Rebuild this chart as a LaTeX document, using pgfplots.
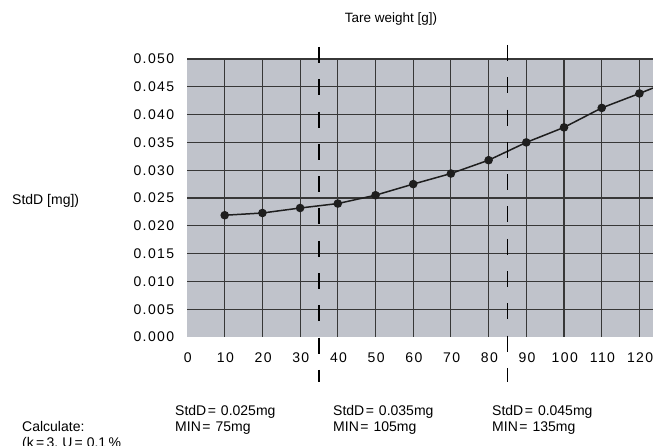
\documentclass[border=0pt]{standalone}
\usepackage{fontspec}
\setmainfont{Liberation Sans}
\newfontfamily\tickfont[LetterSpace=10]{Liberation Sans}
\usepackage{pgfplots}
\pgfplotsset{compat=1.18}
\definecolor{bgc}{RGB}{192,195,203}
\definecolor{gridc}{RGB}{55,55,55}
\definecolor{datac}{RGB}{30,30,30}
\begin{document}
\begin{tikzpicture}[x=1pt,y=1pt]
\path[use as bounding box] (0,0) rectangle (653,446);
\begin{axis}[
  at={(187pt,109pt)}, anchor=south west,
  scale only axis, width=466pt, height=278pt,
  xmin=0, xmax=123.6, ymin=0, ymax=0.05,
  scaled y ticks=false, scaled x ticks=false,
  clip mode=individual,
  axis background/.style={fill=bgc},
  axis line style={draw=none},
  major tick length=0pt,
  xtick={10,20,30,40,50,60,70,80,90,100,110,120},
  xticklabels={10,20,30,40,50,60,70,80,90,100,110,120},
  ytick={0.005,0.01,0.015,0.02,0.025,0.03,0.035,0.04,0.045,0.05},
  yticklabels={0.005,0.010,0.015,0.020,0.025,0.030,0.035,0.040,0.045,0.050},
  extra x ticks={0}, extra x tick labels={0},
  extra y ticks={0}, extra y tick labels={0.000},
  extra tick style={grid=none},
  grid=major,
  major grid style={draw=gridc, line width=1.1pt},
  /pgf/number format/assume math mode=true,
  yticklabel style={font=\fontsize{14}{16}\selectfont\tickfont, anchor=east, inner sep=0pt, xshift=-12.6pt},
  xticklabel style={font=\fontsize{14}{16}\selectfont\tickfont, anchor=center, inner sep=0pt, yshift=-21pt, xshift=0.7pt},
]
\addplot[datac, line width=1.5pt, mark=*, mark size=3.5pt, mark options={fill=datac, draw=datac}] coordinates {
  (10,0.0219) (20,0.0223) (30,0.0232) (40,0.0240) (50,0.0255) (60,0.0275)
  (70,0.0294) (80,0.0318) (90,0.0350) (100,0.0377) (110,0.0412) (120,0.0438)
  (130,0.0465)
};
\draw[black, line width=1.6pt, dash pattern=on 16pt off 16.3pt] (axis cs:35,0.05216) -- (axis cs:35,-0.00809);
\draw[black, line width=1.6pt, dash pattern=on 16pt off 16.3pt] (axis cs:85,0.05252) -- (axis cs:85,-0.00809);
\end{axis}
\node[anchor=base, inner sep=0pt, font=\fontsize{13.5}{15}\selectfont] at (391,423.2) {Tare weight [g])};
\node[anchor=base west, inner sep=0pt, font=\fontsize{14}{16}\selectfont] at (12,241) {StdD [mg])};
\node[anchor=base west, inner sep=0pt, font=\fontsize{14}{16}\selectfont] at (22,14.3) {Calculate:};
\node[anchor=base west, inner sep=0pt, font=\fontsize{14}{16}\selectfont] at (22,-2) {(k\,=\,3, U\,=\ 0.1\,\%};
\node[anchor=base west, inner sep=0pt, font=\fontsize{14}{16}\selectfont] at (175,30.3) {StdD\hspace{1.5pt}=\hspace{5pt}0.025mg};
\node[anchor=base west, inner sep=0pt, font=\fontsize{14}{16}\selectfont] at (175,14.3) {MIN\hspace{1.5pt}=\hspace{5pt}75mg};
\node[anchor=base west, inner sep=0pt, font=\fontsize{14}{16}\selectfont] at (333,30.3) {StdD\hspace{1.5pt}=\hspace{5pt}0.035mg};
\node[anchor=base west, inner sep=0pt, font=\fontsize{14}{16}\selectfont] at (333,14.3) {MIN\hspace{1.5pt}=\hspace{5pt}105mg};
\node[anchor=base west, inner sep=0pt, font=\fontsize{14}{16}\selectfont] at (492,30.3) {StdD\hspace{1.5pt}=\hspace{5pt}0.045mg};
\node[anchor=base west, inner sep=0pt, font=\fontsize{14}{16}\selectfont] at (492,14.3) {MIN\hspace{1.5pt}=\hspace{5pt}135mg};
\end{tikzpicture}
\end{document}
